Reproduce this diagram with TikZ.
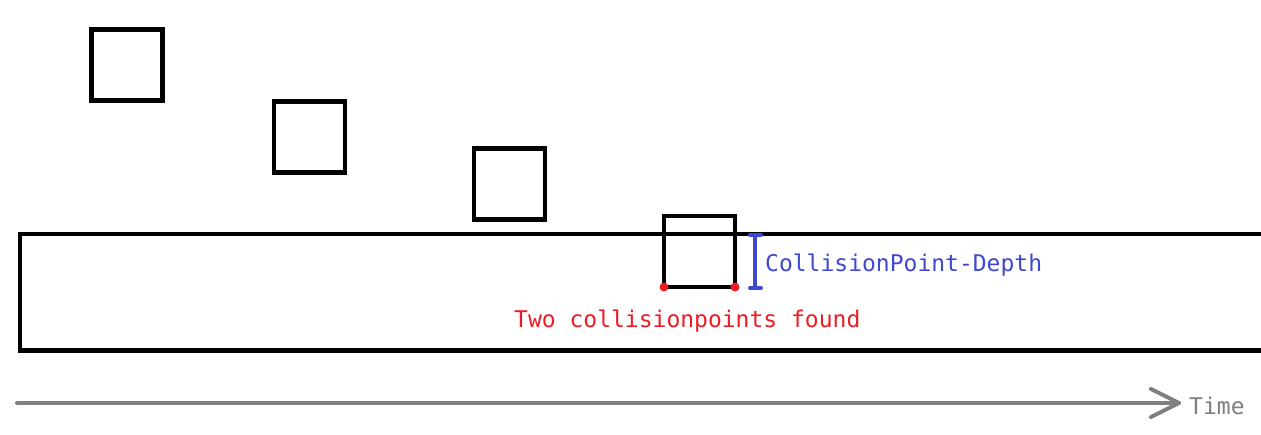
\documentclass[tikz,border=0pt]{standalone}
\usepackage{fontspec}
\setmonofont{DejaVu Sans Mono}
\usetikzlibrary{arrows.meta}
\definecolor{depthblue}{RGB}{64,72,208}
\definecolor{hitred}{RGB}{237,28,36}
\definecolor{timegray}{RGB}{128,128,128}
\begin{document}
\begin{tikzpicture}[x=1pt,y=-1pt,
  box/.style={draw=black,line width=4.7pt,minimum size=71pt,inner sep=0pt,outer sep=0pt},
  label/.style={font=\ttfamily\fontsize{23}{23}\selectfont,inner sep=0pt,anchor=west},
  hit/.style={fill=hitred,circle,inner sep=0pt,minimum size=9pt}]
\useasboundingbox[fill=white] (0,0) rectangle (1261,435);
% ground
\draw[line width=4.7pt,line join=miter] (1262,234) -- (20,234) -- (20,350.5) -- (1262,350.5);
% falling box over time
\node[box] (b1) at (127,65) {};
\node[box] (b2) at (309.5,137) {};
\node[box] (b3) at (509.5,184) {};
\node[box] (b4) at (699.5,251.5) {};
% collision points
\node[hit] (p1) at (b4.south west) {};
\node[hit] (p2) at (b4.south east) {};
% depth marker
\coordinate (d1) at (755,235);
\coordinate (d2) at (755,288);
\draw[depthblue,line width=4pt] (d1) -- (d2);
\draw[depthblue,line width=4pt,line cap=round] ([xshift=-5pt]d1) -- ([xshift=6pt]d1);
\draw[depthblue,line width=4pt,line cap=round] ([xshift=-5pt]d2) -- ([xshift=6pt]d2);
\node[label,text=depthblue] (dl) at (765,265) {CollisionPoint-Depth};
\node[label,text=hitred] (hl) at (514,321) {Two collisionpoints found};
% time axis
\coordinate (t0) at (17,403);
\coordinate (t1) at (1179,403);
\draw[timegray,line width=4pt,line cap=round] (t0) -- (t1);
\draw[timegray,line width=4pt,line cap=round,line join=round] (1151,389) -- (t1) -- (1151,417);
\node[label,text=timegray] (tl) at (1189,406) {Time};
\end{tikzpicture}
\end{document}
